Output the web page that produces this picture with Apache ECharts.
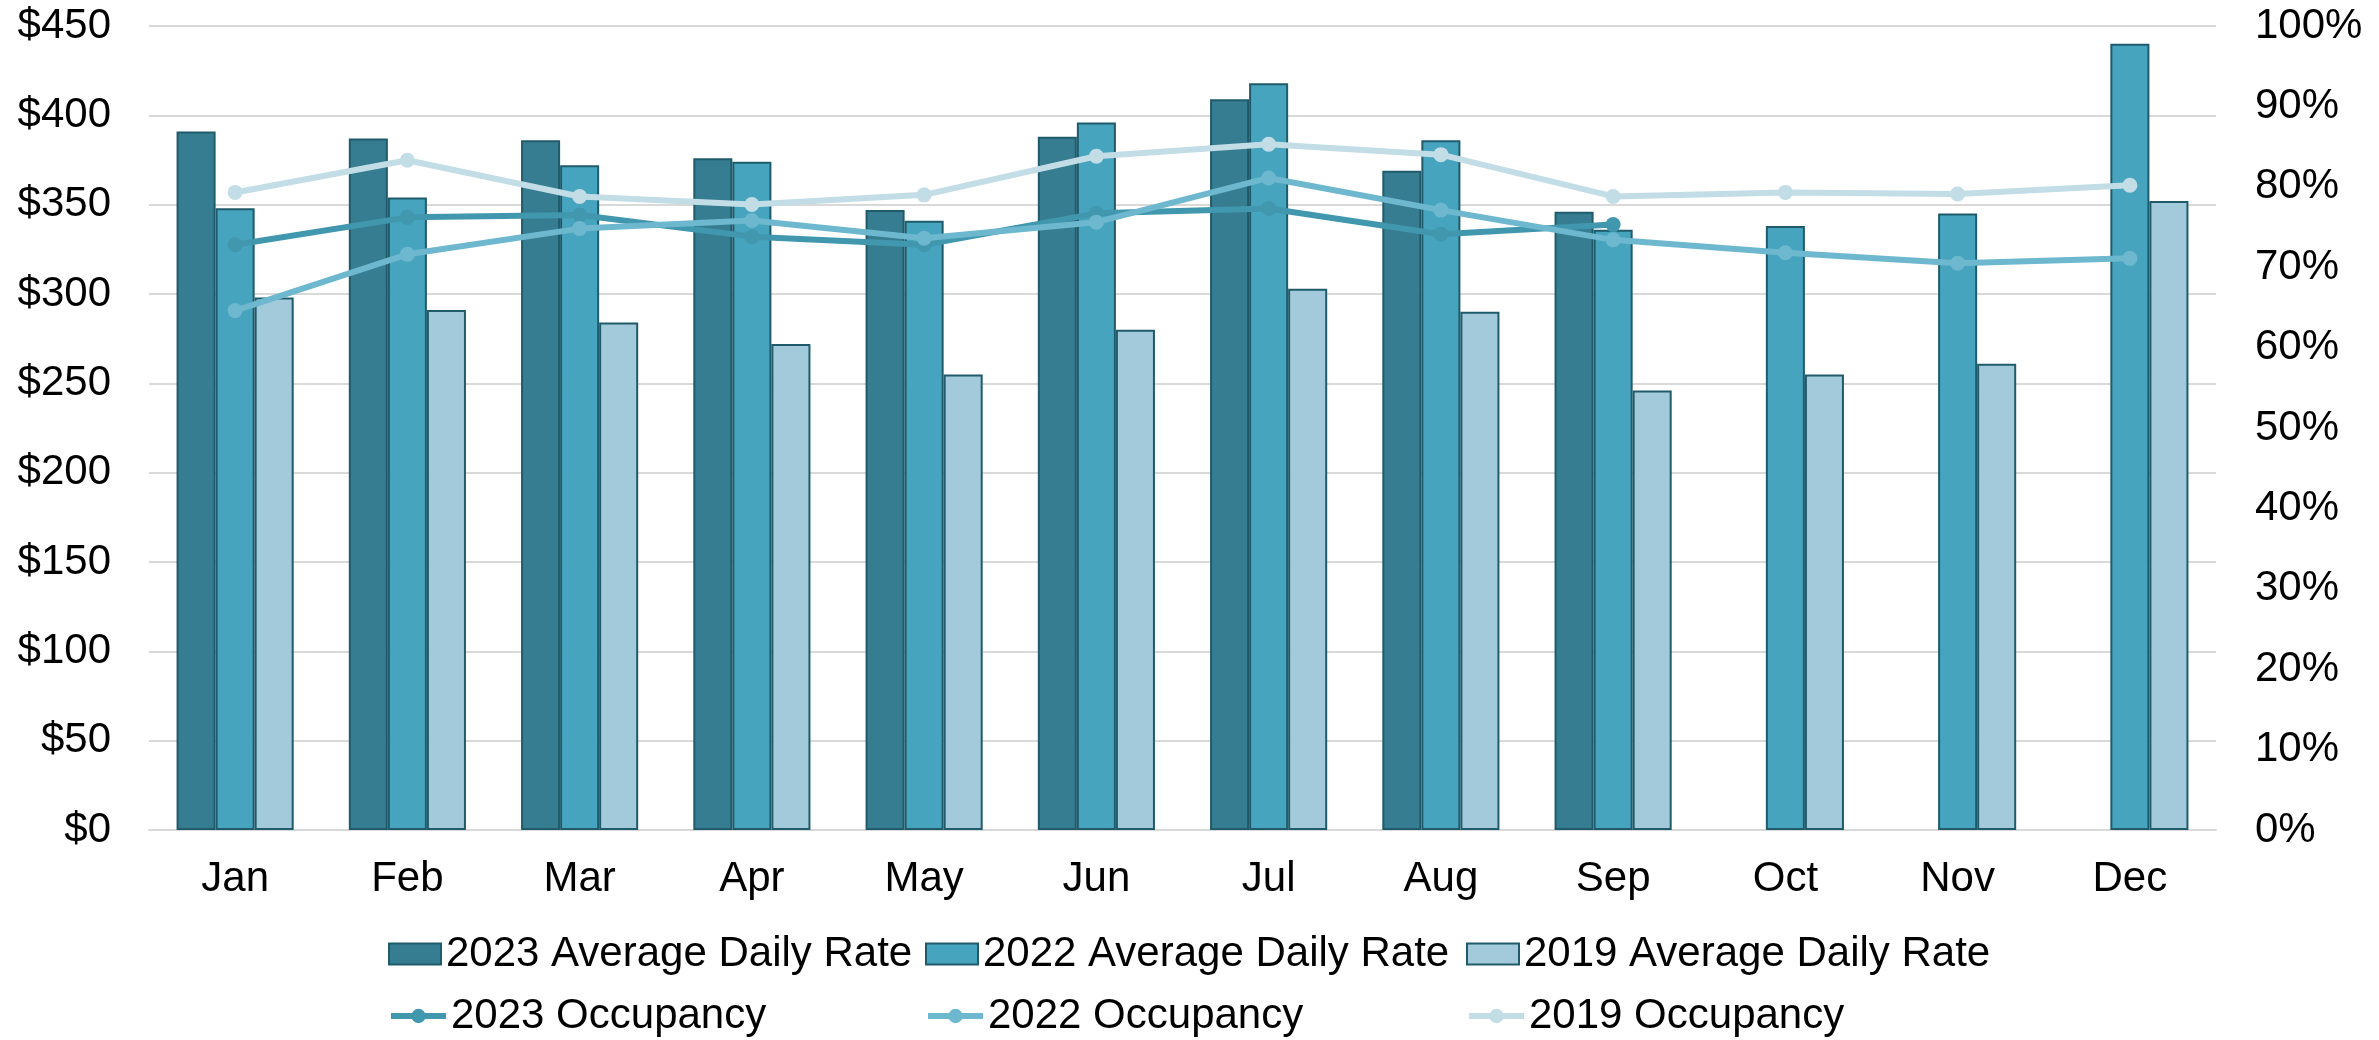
<!DOCTYPE html>
<html>
<head>
<meta charset="utf-8">
<script src="https://cdn.jsdelivr.net/npm/echarts@6/dist/echarts.min.js"></script>
<style>
  html, body { margin: 0; padding: 0; background: #fff; }
  #chart { width: 2379px; height: 1040px; }
</style>
</head>
<body>
<div id="chart"></div>
<script>
// months
const months = ['Jan', 'Feb', 'Mar', 'Apr', 'May', 'Jun', 'Jul', 'Aug', 'Sep', 'Oct', 'Nov', 'Dec']

// average daily rate ($)
const adr2023 = [391, 387, 386, 376, 347, 388, 409, 369, 346, null, null, null]
const adr2022 = [348, 354, 372, 374, 341, 396, 418, 386, 336, 338, 345, 440]
const adr2019 = [298, 291, 284, 272, 255, 280, 303, 290, 246, 255, 261, 352]

// occupancy (%)
const occ2023 = [72.8, 76.2, 76.5, 73.8, 72.8, 76.7, 77.3, 74.1, 75.3, null, null, null]
const occ2022 = [64.6, 71.6, 74.8, 75.8, 73.6, 75.6, 81.1, 77.1, 73.4, 71.8, 70.5, 71.1]
const occ2019 = [79.3, 83.3, 78.8, 77.8, 79.0, 83.8, 85.3, 84.0, 78.8, 79.3, 79.1, 80.2]

const barNames = ['2023 Average Daily Rate', '2022 Average Daily Rate', '2019 Average Daily Rate']
const lineNames = ['2023 Occupancy', '2022 Occupancy', '2019 Occupancy']

const font = 'Liberation Sans, Arial, sans-serif'
const border = '#1F5B6B'
const gridColor = '#D9D9D9'
const fs = 42

const chart = echarts.init(document.getElementById('chart'))

// bar series
const barSeries = (name, data, color) => ({
  name,
  type: 'bar',
  data,
  barGap: '0%',
  barCategoryGap: '32%',
  itemStyle: { color, borderColor: border, borderWidth: 2 }
})

// line series
const lineSeries = (name, data, color) => ({
  name,
  type: 'line',
  yAxisIndex: 1,
  data,
  symbol: 'circle',
  symbolSize: 15,
  lineStyle: { color, width: 6 },
  itemStyle: { color },
  z: 5
})

// one legend per item so the columns line up like the original
const colLeft = [383, 920, 1461]
const legends = []
barNames.forEach((n, i) => legends.push({
  data: [n], left: colLeft[i], top: 928,
  itemWidth: 52, itemHeight: 21, icon: 'rect',
  textStyle: { fontFamily: font, fontSize: fs, color: '#000' }
}))
lineNames.forEach((n, i) => legends.push({
  data: [n], left: colLeft[i], top: 990,
  itemWidth: 55, itemHeight: 18,
  lineStyle: { width: 6 },
  textStyle: { fontFamily: font, fontSize: fs, color: '#000' }
}))

chart.setOption({
  animation: false,
  grid: { left: 149, right: 163, top: 26, bottom: 210 },
  legend: legends,
  xAxis: {
    type: 'category',
    data: months,
    axisLine: { lineStyle: { color: gridColor, width: 2 } },
    axisTick: { show: false },
    axisLabel: { fontFamily: font, fontSize: fs, color: '#000', margin: 28 }
  },
  yAxis: [
    {
      type: 'value',
      min: 0,
      max: 450,
      interval: 50,
      axisLine: { show: false },
      axisTick: { show: false },
      splitLine: { lineStyle: { color: gridColor, width: 2 } },
      axisLabel: {
        fontFamily: font, fontSize: fs, color: '#000', margin: 38,
        formatter: v => '$' + v
      }
    },
    {
      type: 'value',
      min: 0,
      max: 100,
      interval: 10,
      axisLine: { show: false },
      axisTick: { show: false },
      splitLine: { show: false },
      axisLabel: {
        fontFamily: font, fontSize: fs, color: '#000', margin: 39,
        formatter: v => v + '%'
      }
    }
  ],
  series: [
    barSeries(barNames[0], adr2023, '#367D92'),
    barSeries(barNames[1], adr2022, '#46A4BE'),
    barSeries(barNames[2], adr2019, '#A3CADA'),
    lineSeries(lineNames[0], occ2023, '#4197AE'),
    lineSeries(lineNames[1], occ2022, '#6DB8CF'),
    lineSeries(lineNames[2], occ2019, '#C2DDE6')
  ]
})
</script>
</body>
</html>
